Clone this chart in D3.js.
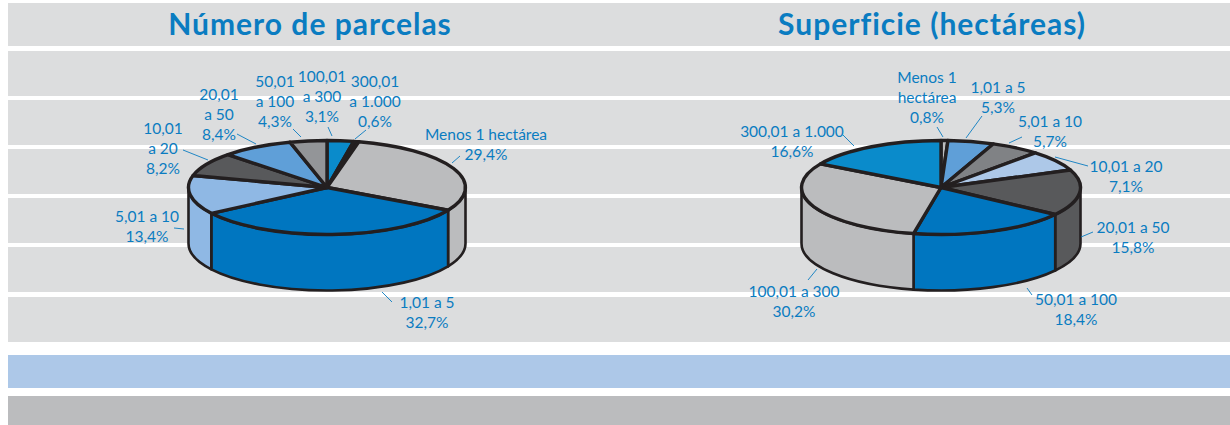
<!DOCTYPE html>
<html><head><meta charset="utf-8">
<script src="https://cdn.jsdelivr.net/npm/d3@7/dist/d3.min.js"></script>
<style>html,body{margin:0;padding:0;background:#fff}svg{display:block}text{font-family:Lato,"Open Sans",sans-serif}</style>
</head><body><svg id="c" width="1230" height="425"></svg>
<script>
// Data
const parcelasCategories = ["100,01 a 300","300,01 a 1.000","Menos 1 hectárea","1,01 a 5","5,01 a 10","10,01 a 20","20,01 a 50","50,01 a 100"];
const parcelasValues = [3.1,0.6,29.4,32.7,13.4,8.2,8.4,4.3];
const parcelasColors = ["#0a8bcb","#231f20","#bbbcbe","#0076c0","#8fb8e4","#58595b","#5f9fd8","#939598"];
const superficieCategories = ["Menos 1 hectárea","1,01 a 5","5,01 a 10","10,01 a 20","20,01 a 50","50,01 a 100","100,01 a 300","300,01 a 1.000"];
const superficieValues = [0.8,5.3,5.7,7.1,15.8,18.4,30.2,16.6];
const superficieColors = ["#bbbcbe","#5f9fd8","#808285","#adc8e8","#58595b","#0076c0","#bbbcbe","#0a8bcb"];
const parcelasLabelLines = [["100,01","a 300","3,1%"],["300,01","a 1.000","0,6%"],["Menos 1 hectárea","29,4%"],["1,01 a 5","32,7%"],["5,01 a 10","13,4%"],["10,01","a 20","8,2%"],["20,01","a 50","8,4%"],["50,01","a 100","4,3%"]];
const superficieLabelLines = [["Menos 1","hectárea","0,8%"],["1,01 a 5","5,3%"],["5,01 a 10","5,7%"],["10,01 a 20","7,1%"],["20,01 a 50","15,8%"],["50,01 a 100","18,4%"],["100,01 a 300","30,2%"],["300,01 a 1.000","16,6%"]];

// Layout: label centre x, first baseline y, leader x1,y1,x2,y2 (same order as the categories)
const parcelasLabelLayout = [[322,82,328,127,332,136],[375,87,366,130,355,139],[486,140,460,156,452,163],[427,308,382,292,392,302],[147,222,174,228,184,229],[163,134,183,150,208,160],[219,100,237,134,256,144],[275,87,293,129,301,137]];
const superficieLabelLayout = [[927,83,937,127,943,137],[998,93,982,116,966,138],[1050,127,1022,137,1009,143],[1126,172,1088,166,1055,157],[1133,233,1093,232,1081,237],[1076,305,1027,288,1032,295],[794,297,817,269,808,280],[792,137,843,135,854,146]];
const bands = [[3,46],[51,96],[100,145],[149,194],[198,243],[247,292],[297,342]];

const svg = d3.select("#c");
const ink = "#231f20", textBlue = "#0a7cc1";

svg.selectAll("rect.band").data(bands).join("rect").attr("class","band")
  .attr("x",8).attr("width",1222).attr("y",d=>d[0]).attr("height",d=>d[1]-d[0]).attr("fill","#dcddde");
svg.append("rect").attr("x",8).attr("y",355).attr("width",1222).attr("height",33).attr("fill","#adc8e8");
svg.append("rect").attr("x",8).attr("y",396).attr("width",1222).attr("height",29).attr("fill","#bbbcbe");

function title(t,x){
  svg.append("text").text(t).attr("x",x).attr("y",35).attr("text-anchor","middle")
    .attr("font-size",30).attr("font-weight",700).attr("letter-spacing",1).attr("fill","#0a7cc1");
}
title("Número de parcelas",310);
title("Superficie (hectáreas)",932);

function pie3d(o){
  const g = svg.append("g");
  const arcs = d3.pie().sort(null).startAngle(0).endAngle(2*Math.PI)(o.values);
  const sx = d3.scaleLinear().domain([-1,1]).range([o.cx-o.rx,o.cx+o.rx]);
  const sy = d3.scaleLinear().domain([-1,1]).range([o.cy-o.ry,o.cy+o.ry]);
  const px = a=>sx(Math.sin(a)), py = a=>sy(-Math.cos(a));
  // front wall
  const lo=Math.PI/2, hi=3*Math.PI/2;
  arcs.forEach((d,i)=>{
    const a0=Math.max(d.startAngle,lo), a1=Math.min(d.endAngle,hi);
    if(a1<=a0) return;
    const s=`M${px(a0)},${py(a0)}L${px(a0)},${py(a0)+o.depth}A${o.rx},${o.ry} 0 0 1 ${px(a1)},${py(a1)+o.depth}L${px(a1)},${py(a1)}A${o.rx},${o.ry} 0 0 0 ${px(a0)},${py(a0)}Z`;
    g.append("path").attr("d",s).attr("fill",o.colors[i]).attr("stroke",ink).attr("stroke-width",2.6).attr("stroke-linejoin","round");
  });
  // top face
  const arc=d3.arc().innerRadius(0).outerRadius(1);
  const top=g.append("g").attr("transform",`translate(${o.cx},${o.cy}) scale(${o.rx},${o.ry})`);
  top.selectAll("path").data(arcs).join("path").attr("d",arc)
    .attr("fill",(d,i)=>o.colors[i]).attr("stroke",ink).attr("stroke-width",3.4)
    .attr("stroke-linejoin","round").attr("vector-effect","non-scaling-stroke");
  // labels
  o.layout.forEach((l,i)=>{
    svg.append("line").attr("x1",l[2]).attr("y1",l[3]).attr("x2",l[4]).attr("y2",l[5])
      .attr("stroke",textBlue).attr("stroke-width",0.9);
    const t=svg.append("text").attr("text-anchor","middle").attr("fill",textBlue).attr("font-size",15.5);
    o.lines[i].forEach((s,k)=>t.append("tspan").attr("x",l[0]).attr("y",l[1]+k*20.2).text(s));
  });
}
pie3d({cx:327,cy:187.5,rx:138.5,ry:47,depth:56,values:parcelasValues,colors:parcelasColors,lines:parcelasLabelLines,layout:parcelasLabelLayout});
pie3d({cx:941,cy:187.5,rx:139.5,ry:47,depth:56,values:superficieValues,colors:superficieColors,lines:superficieLabelLines,layout:superficieLabelLayout});
</script></body></html>
